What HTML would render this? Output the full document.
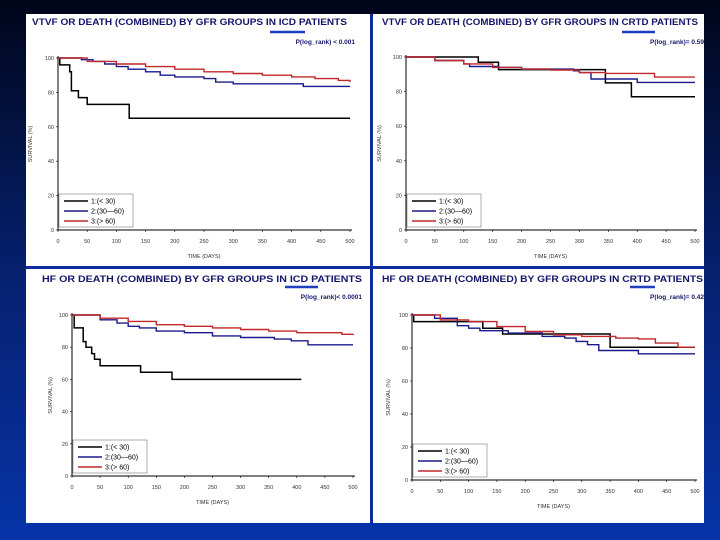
<!DOCTYPE html>
<html><head><meta charset="utf-8"><style>
html,body{margin:0;padding:0;width:720px;height:540px;overflow:hidden;background:#0a2a90}
svg{display:block}
text{font-family:"Liberation Sans",sans-serif}
</style></head><body>
<svg id="s" width="720" height="540" viewBox="0 0 720 540" xmlns="http://www.w3.org/2000/svg">
<defs><linearGradient id="bg" x1="0" y1="0" x2="0" y2="1"><stop offset="0" stop-color="#00061a"/><stop offset="0.5" stop-color="#06206e"/><stop offset="1" stop-color="#0634a8"/></linearGradient></defs>
<rect width="720" height="540" fill="url(#bg)"/>
<rect x="26" y="14" width="678" height="509" fill="#ffffff"/>
<rect x="26" y="266" width="678" height="3" fill="#0c2c9c"/>
<rect x="370" y="14" width="3" height="509" fill="#0c2c9c"/>
</svg>
<script>
// ---- data ----
const xTicks=[0,50,100,150,200,250,300,350,400,450,500];
const yTicks=[0,20,40,60,80,100];
const legendLabels=["1:(< 30)","2:(30\u201460)","3:(> 60)"];
const c1T1=[0,3,20,23,35,50,122,500], c1S1=[100,96,92,81,77,73,65,65];
const c1T2=[0,40,60,80,100,120,150,175,200,250,270,300,420,500], c1S2=[100,99,98,96.5,95,93.5,92,90,89,88,86,85,83.5,83.5];
const c1T3=[0,50,100,150,200,250,300,350,400,440,480,500], c1S3=[100,98,96.5,95,93.5,92,91,90,89,88,87,86];
const c2T1=[0,125,160,345,390,500], c2S1=[100,97,92.7,85,77,77];
const c2T2=[0,50,100,110,160,200,290,300,320,400,500], c2S2=[100,98,96,94.5,94,93,92,91,87.3,85.3,85.3];
const c2T3=[0,50,100,150,200,250,300,345,430,500], c2S3=[100,98,96,94,93,92.5,91,90.5,88.4,88.4];
const c3T1=[0,4,20,25,35,40,50,122,178,408], c3S1=[100,92,83.5,80,76,72.5,68.5,64.5,60,60];
const c3T2=[0,50,80,100,120,150,200,250,300,360,390,420,500], c3S2=[100,97,95,93,92,90,89,87,86,85,84,81.5,81.5];
const c3T3=[0,50,100,150,200,250,300,350,400,480,500], c3S3=[100,98,96,94,93,92,91,90,89,88,87.5];
const c4T1=[0,3,125,160,350,500], c4S1=[100,96,92,88.5,80.5,80.5];
const c4T2=[0,40,80,100,120,170,230,270,290,310,330,400,500], c4S2=[100,98,93.5,92,90.5,89,87,86,84,82,78.5,76.5,76.5];
const c4T3=[0,50,100,150,200,250,300,350,360,400,430,470,500], c4S3=[100,97,96,93,90,88,87,87,86,85.5,83,80.5,80.5];

const charts=[
 {name:"vtvf-icd",title:"VTVF OR DEATH (COMBINED) BY GFR GROUPS IN ICD PATIENTS",tx:32,tw:315,ty:25,p:"P(log_rank) < 0.001",px:355,py:44,ul:[270,305,32],x0:58,x1:350,y0:230,y1:58,ytx:32,series:[[c1T1,c1S1],[c1T2,c1S2],[c1T3,c1S3]]},
 {name:"vtvf-crtd",title:"VTVF OR DEATH (COMBINED) BY GFR GROUPS IN CRTD PATIENTS",tx:382,tw:316,ty:25,p:"P(log_rank)= 0.59",px:704,py:44,ul:[622,655,32],x0:406,x1:695,y0:230,y1:57,ytx:381,series:[[c2T1,c2S1],[c2T2,c2S2],[c2T3,c2S3]]},
 {name:"hf-icd",title:"HF OR DEATH (COMBINED) BY GFR GROUPS IN ICD PATIENTS",tx:42,tw:320,ty:282,p:"P(log_rank)< 0.0001",px:362,py:299,ul:[285,318,287],x0:72,x1:353,y0:476,y1:315,ytx:52,series:[[c3T1,c3S1],[c3T2,c3S2],[c3T3,c3S3]]},
 {name:"hf-crtd",title:"HF OR DEATH (COMBINED) BY GFR GROUPS IN CRTD PATIENTS",tx:382,tw:321,ty:282,p:"P(log_rank)= 0.42",px:704,py:299,ul:[630,655,287],x0:412,x1:695,y0:480,y1:315,ytx:390,series:[[c4T1,c4S1],[c4T2,c4S2],[c4T3,c4S3]]}
];
const colors=["#000000","#1a1a8c","#c0282a"];
const NS="http://www.w3.org/2000/svg";
const svg=document.getElementById("s");
function mk(tag,attrs,parent,txt){const e=document.createElementNS(NS,tag);for(const k in attrs)e.setAttribute(k,attrs[k]);if(txt!==undefined)e.textContent=txt;(parent||svg).appendChild(e);return e;}
charts.forEach(c=>{
 const g=mk("g",{});
 
 
 const X=t=>c.x0+(c.x1-c.x0)*t/500;
 const Y=v=>c.y0+(c.y1-c.y0)*v/100;
 const t=mk("text",{x:c.tx,y:c.ty,"font-size":"9.5","font-weight":"bold",fill:"#15156a",textLength:c.tw,lengthAdjust:"spacingAndGlyphs"},g,c.title);
 
 
 const u=mk("line",{x1:c.ul[0],x2:c.ul[1],y1:c.ul[2],y2:c.ul[2],stroke:"#1f3fc0","stroke-width":"2.5"},g);
 
 
 const p=mk("text",{x:c.px,y:c.py,"font-size":"6.5","font-weight":"bold",fill:"#15156a","text-anchor":"end"},g,c.p);
 
 
 const ax=mk("path",{d:`M${c.x0} ${c.y1-2}V${c.y0}H${c.x1+2}`,fill:"none",stroke:"#000","stroke-width":"1"},g);
 
 
 xTicks.forEach(v=>{
  const tk=mk("line",{x1:X(v),x2:X(v),y1:c.y0,y2:c.y0+2,stroke:"#000","stroke-width":"0.6"},g);
  
  
  const l=mk("text",{x:X(v),y:c.y0+13,"font-size":"5.5",fill:"#333","text-anchor":"middle"},g,String(v));
  
  
 });
 yTicks.forEach(v=>{
  const tk=mk("line",{x1:c.x0-2,x2:c.x0,y1:Y(v),y2:Y(v),stroke:"#000","stroke-width":"0.6"},g);
  
  
  const l=mk("text",{x:c.x0-4,y:Y(v)+2,"font-size":"5.5",fill:"#333","text-anchor":"end"},g,String(v));
  
  
 });
 const xt=mk("text",{x:(c.x0+c.x1)/2,y:c.y0+28,"font-size":"5.5",fill:"#333","text-anchor":"middle"},g,"TIME (DAYS)");
 
 
 const ym=(c.y0+c.y1)/2;
 const yt=mk("text",{x:c.ytx,y:ym,"font-size":"5.5",fill:"#333","text-anchor":"middle",transform:`rotate(-90 ${c.ytx} ${ym})`},g,"SURVIVAL (%)");
 
 
 c.series.forEach((s,i)=>{
  const [T,S]=s;let d=`M${X(T[0])} ${Y(S[0])}`;
  for(let k=1;k<T.length;k++){d+=`H${X(T[k]).toFixed(1)}V${Y(S[k]).toFixed(1)}`;}
  const pl=mk("path",{d:d,fill:"none",stroke:colors[i],"stroke-width":i==0?"1.5":"1.4"},g);
  
  
 });
 const lx=c.x0+1,ly=c.y0-36;
 const lb=mk("rect",{x:lx,y:ly,width:74,height:33,fill:"#fff",stroke:"#777","stroke-width":"0.6"},g);
 
 
 legendLabels.forEach((lab,i)=>{
  const yy=ly+7+i*10;
  const ll=mk("line",{x1:lx+5,x2:lx+29,y1:yy,y2:yy,stroke:colors[i],"stroke-width":"1.5"},g);
  
  
  const lt=mk("text",{x:lx+32,y:yy+2.5,"font-size":"7",fill:"#000"},g,lab);
  
  
 });
});
</script>
</body></html>
